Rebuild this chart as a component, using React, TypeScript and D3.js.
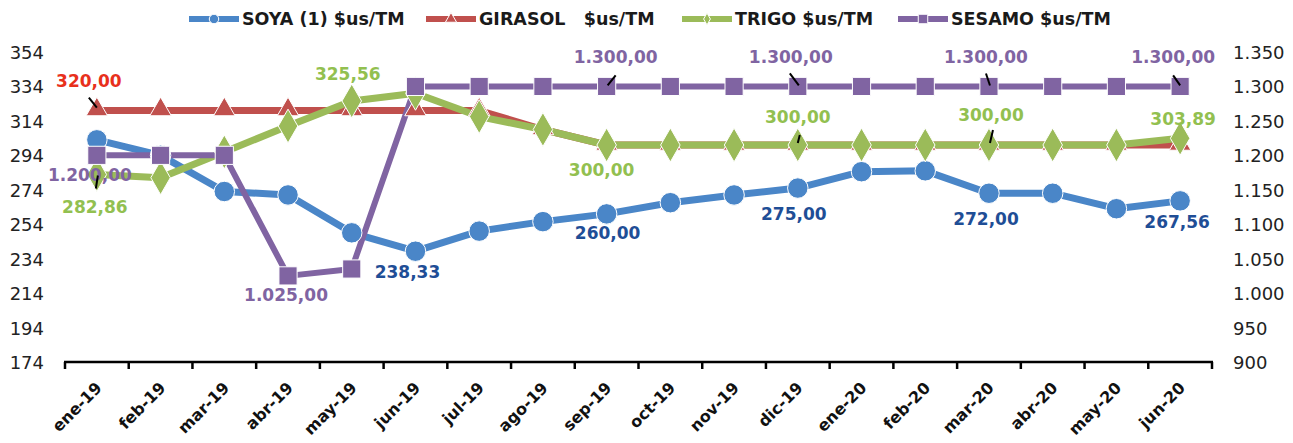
import React from "react";
import * as d3 from "d3";

const months = ["ene-19","feb-19","mar-19","abr-19","may-19","jun-19","jul-19","ago-19","sep-19","oct-19","nov-19","dic-19","ene-20","feb-20","mar-20","abr-20","may-20","jun-20"];
const soya = [303, 294, 273, 271, 249, 238.33, 250, 255.5, 260, 266.5, 271, 275, 284.5, 285, 272, 272, 263, 267.56];
const girasol = [320, 320, 320, 320, 320, 320, 320, 309, 300, 300, 300, 300, 300, 300, 300, 300, 300, 300];
const trigo = [282.86, 281, 296, 311, 325.56, 330, 316.5, 309, 300, 300, 300, 300, 300, 300, 300, 300, 300, 303.89];
const sesamo = [1200, 1200, 1200, 1025, 1035, 1300, 1300, 1300, 1300, 1300, 1300, 1300, 1300, 1300, 1300, 1300, 1300, 1300];
const leftTicks = [174, 194, 214, 234, 254, 274, 294, 314, 334, 354];
const rightTicks = [900, 950, 1000, 1050, 1100, 1150, 1200, 1250, 1300, 1350];
const seriesNames = ["SOYA (1) $us/TM", "GIRASOL   $us/TM", "TRIGO $us/TM", "SESAMO $us/TM"];

const FONT = "'DejaVu Sans', sans-serif";
const W = 1293, H = 443;

const fmt = (v: number) => {
  const s = v.toFixed(2).replace(".", ",");
  const [i, d] = s.split(",");
  return i.replace(/\B(?=(\d{3})+(?!\d))/g, ".") + "," + d;
};
const fmtTick = (v: number) => String(v).replace(/\B(?=(\d{3})+(?!\d))/g, ".");

type Lbl = { s: number; i: number; dx: number; dy: number; leader?: [number, number, number, number] };
const labels: Lbl[] = [
  { s: 1, i: 0, dx: -8, dy: -30, leader: [-8, -13, 0, -3] },
  { s: 3, i: 0, dx: -7, dy: 20 },
  { s: 2, i: 0, dx: -2, dy: 32, leader: [1, 1, -1, 14] },
  { s: 2, i: 4, dx: -4, dy: -27 },
  { s: 3, i: 3, dx: -2, dy: 19 },
  { s: 0, i: 5, dx: -8, dy: 21 },
  { s: 3, i: 8, dx: 9, dy: -29, leader: [1, -1, 9, -11] },
  { s: 2, i: 8, dx: -5, dy: 25 },
  { s: 0, i: 8, dx: 1, dy: 19 },
  { s: 3, i: 11, dx: -7, dy: -29, leader: [-8, -13, 1, -1] },
  { s: 2, i: 11, dx: 0, dy: -28, leader: [2, -10, 0, -2] },
  { s: 0, i: 11, dx: -4, dy: 26 },
  { s: 3, i: 14, dx: -3, dy: -29, leader: [-3, -13, 1, -1] },
  { s: 2, i: 14, dx: 2, dy: -30, leader: [4, -15, 1, -2] },
  { s: 0, i: 14, dx: -3, dy: 26 },
  { s: 3, i: 17, dx: -7, dy: -29, leader: [-7, -11, 0, -1] },
  { s: 2, i: 17, dx: 3, dy: -19 },
  { s: 0, i: 17, dx: -3, dy: 21 },
];

export default function App() {
  const x = d3.scaleBand<string>().domain(months).range([65, 1212]);
  const cx = (i: number) => (x(months[i]) as number) + x.bandwidth() / 2;
  const yL = d3.scaleLinear().domain([174, 354]).range([362, 52]);
  const yR = d3.scaleLinear().domain([900, 1350]).range([362, 52]);

  const series = [
    { name: seriesNames[0], data: soya, y: yL, color: "#4A86C8", label: "#1F4E96", marker: "circle", lw: 7 },
    { name: seriesNames[1], data: girasol, y: yL, color: "#C0504D", label: "#E8301C", marker: "triangle", lw: 7 },
    { name: seriesNames[2], data: trigo, y: yL, color: "#9BBB59", label: "#92C050", marker: "diamond", lw: 7 },
    { name: seriesNames[3], data: sesamo, y: yR, color: "#8064A2", label: "#8064A2", marker: "square", lw: 6 },
  ];

  const line = (data: number[], y: d3.ScaleLinear<number, number>) =>
    d3.line<number>().x((_, i) => cx(i)).y((v) => y(v))(data) as string;

  const markerPath = (m: string, s: number) => {
    const sym =
      m === "circle" ? d3.symbolCircle : m === "triangle" ? d3.symbolTriangle : m === "diamond" ? d3.symbolDiamond : d3.symbolSquare;
    return d3.symbol().type(sym).size(s)() as string;
  };
  const markerSize: Record<string, number> = { circle: 330, triangle: 200, diamond: 330, square: 330 };
  const legendSize: Record<string, number> = { circle: 70, triangle: 55, diamond: 40, square: 90 };

  const legendX = [189, 426, 682, 898];

  return (
    <svg width={W} height={H} style={{ position: "absolute", left: 0, top: 0, background: "#fff" }} fontFamily={FONT}>
      {/* legend */}
      {series.map((s, k) => (
        <g key={"lg" + k} transform={`translate(${legendX[k]},19)`}>
          <line x1={0} x2={50} y1={0} y2={0} stroke={s.color} strokeWidth={6} />
          <path d={markerPath(s.marker, legendSize[s.marker])} transform="translate(25,0)" fill={s.color} stroke="#fff" strokeWidth={1} />
          <text x={53} y={6} fontSize={17.5} fontWeight="bold" fill="#1a1a1a" style={{ whiteSpace: "pre" }}>{s.name}</text>
        </g>
      ))}

      {/* left ticks */}
      {leftTicks.map((t) => (
        <text key={"l" + t} x={44} y={yL(t) + 7} fontSize={18} textAnchor="end" fill="#222">{fmtTick(t)}</text>
      ))}
      {rightTicks.map((t) => (
        <text key={"r" + t} x={1233} y={yR(t) + 7} fontSize={18} textAnchor="start" fill="#222">{fmtTick(t)}</text>
      ))}

      {/* x axis */}
      <line x1={64} x2={1213} y1={362} y2={362} stroke="#000" strokeWidth={2.5} />
      {d3.range(months.length + 1).map((i) => {
        const xx = 65 + i * x.bandwidth();
        return <line key={"t" + i} x1={xx} x2={xx} y1={362} y2={369} stroke="#000" strokeWidth={2.5} />;
      })}
      {months.map((m, i) => (
        <text key={m} transform={`translate(${cx(i) + 6},${389}) rotate(-45)`} fontSize={16} fontWeight="bold" textAnchor="end" fill="#111">{m}</text>
      ))}

      {/* lines */}
      {series.map((s, k) => (
        <path key={"p" + k} d={line(s.data, s.y)} fill="none" stroke={s.color} strokeWidth={s.lw} strokeLinejoin="round" />
      ))}
      {series.map((s, k) => (
        <g key={"m" + k}>
          {s.data.map((v, i) => (
            <path key={i} d={markerPath(s.marker, markerSize[s.marker])} transform={`translate(${cx(i)},${s.y(v) + (s.marker === "triangle" ? -1 : 0)})`} fill={s.color} stroke="#fff" strokeWidth={1} />
          ))}
        </g>
      ))}

      {/* labels */}
      {labels.map((l, k) => {
        const s = series[l.s];
        const px = cx(l.i), py = s.y(s.data[l.i]);
        return (
          <g key={"lb" + k}>
            <text x={px + l.dx} y={py + l.dy + 6} fontSize={17} fontWeight="bold" textAnchor="middle" fill={s.label}>{fmt(s.data[l.i])}</text>
            {l.leader && (
              <line x1={px + l.leader[0]} y1={py + l.leader[1]} x2={px + l.leader[2]} y2={py + l.leader[3]} stroke="#000" strokeWidth={2} />
            )}
          </g>
        );
      })}
    </svg>
  );
}
